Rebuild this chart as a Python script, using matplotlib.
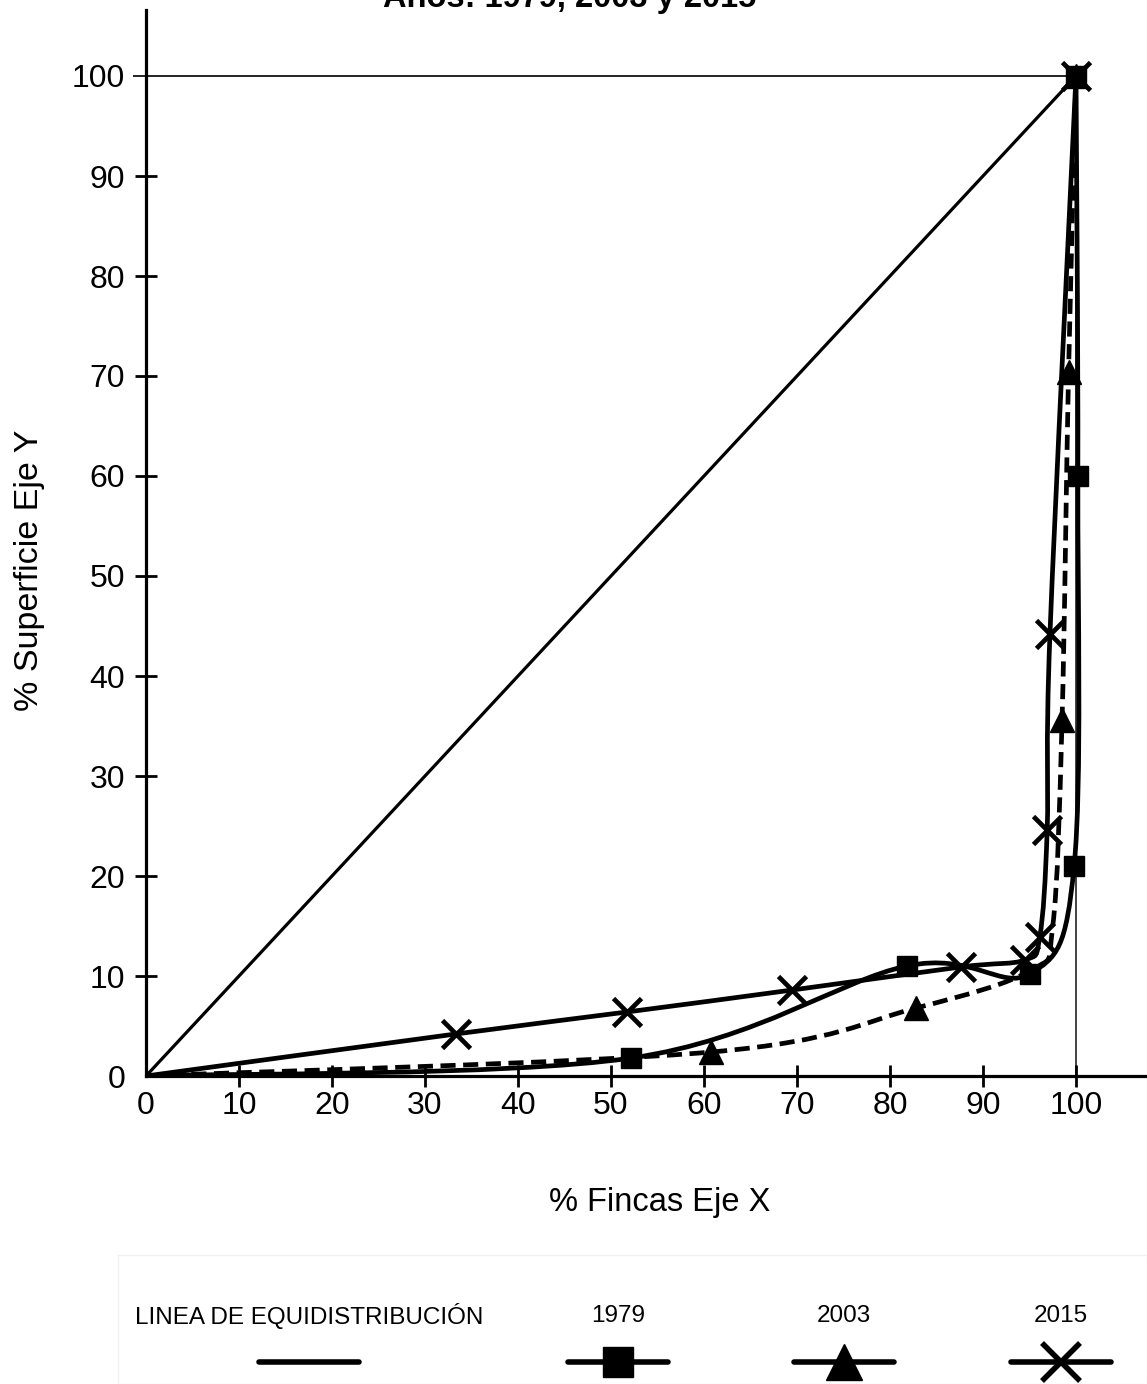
import matplotlib
matplotlib.use("Agg")
import matplotlib.pyplot as plt
from matplotlib.path import Path
from matplotlib.patches import PathPatch, Rectangle
from matplotlib.lines import Line2D

plt.rcParams['font.family'] = ['Liberation Sans', 'DejaVu Sans']

# ---------------- data ----------------
title = "Años: 1979, 2003 y 2015"
xlabel = "% Fincas Eje X"
ylabel = "% Superficie Eje Y"
ticks = [0, 10, 20, 30, 40, 50, 60, 70, 80, 90, 100]

equi_x = [0, 100]
equi_y = [0, 100]

x1979 = [0, 52.2, 81.8, 95.0, 99.8, 100.2, 100]
y1979 = [0, 1.8, 11.0, 10.2, 21.0, 60.0, 100]

# 2003: two vertices around 95-97.5 carry no visible marker in the reference
x2003 = [0, 60.8, 82.8, 95.2, 97.5, 98.5, 99.2, 100]
y2003 = [0, 2.4, 6.8, 10.6, 15.0, 35.6, 70.4, 100]
marked2003 = [1, 2, 5, 6, 7]

x2015 = [0, 33.3, 51.7, 69.5, 87.6, 94.5, 96.1, 96.9, 97.2, 100]
y2015 = [0, 4.2, 6.4, 8.6, 10.9, 11.6, 13.9, 24.6, 44.2, 100]

legend_labels = ["LINEA DE EQUIDISTRIBUCIÓN", "1979", "2003", "2015"]

# ---------------- figure ----------------
W, H = 1147, 1384
fig = plt.figure(figsize=(W / 100, H / 100), dpi=100)

x0px, x100px = 146, 1076
y0px, y100px = 1076, 76
sx = (x100px - x0px) / 100.0
sy = (y0px - y100px) / 100.0
xmax = (W - x0px) / sx
ytop_px = 10
ymax = (y0px - ytop_px) / sy

ax = fig.add_axes([x0px / W, (H - y0px) / H, 1 - x0px / W, (y0px - ytop_px) / H])
ax.set_xlim(0, xmax)
ax.set_ylim(0, ymax)
ax.patch.set_alpha(0)
for s in ['top', 'right']:
    ax.spines[s].set_visible(False)
for s in ['left', 'bottom']:
    ax.spines[s].set_linewidth(2.3)
    ax.spines[s].set_color('black')
    ax.spines[s].set_zorder(1)

ax.set_xticks(ticks)
ax.set_yticks(ticks)
ax.set_xticklabels([str(t) for t in ticks])
ax.set_yticklabels([str(t) for t in ticks])
ax.tick_params(axis='both', direction='inout', length=16, width=2.0,
               labelsize=23, colors='black')
ax.tick_params(axis='x', pad=3)
ax.tick_params(axis='y', pad=7)
xt = ax.xaxis.get_major_ticks()
xt[0].tick1line.set_visible(False)
yt = ax.yaxis.get_major_ticks()
yt[0].tick1line.set_visible(False)
yt[-1].tick1line.set_visible(False)

# frame lines at 100
ax.plot([-12 / sx, 100], [100, 100], color='#222222', lw=1.4, zorder=1,
        clip_on=False)
ax.plot([100, 100], [0, 100], color='#222222', lw=1.2, zorder=1)

# equidistribution
ax.plot(equi_x, equi_y, color='black', lw=2.3, zorder=2)


def smooth_path(xs, ys, k=6.0):
    # Catmull-Rom style smoothing expressed as cubic Bezier path
    pts = [(x * sx, y * sy) for x, y in zip(xs, ys)]
    n = len(pts)
    verts = [pts[0]]
    codes = [Path.MOVETO]
    for i in range(n - 1):
        p0 = pts[i - 1] if i > 0 else pts[i]
        p1 = pts[i]
        p2 = pts[i + 1]
        p3 = pts[i + 2] if i + 2 < n else pts[i + 1]
        c1 = (p1[0] + (p2[0] - p0[0]) / k, p1[1] + (p2[1] - p0[1]) / k)
        c2 = (p2[0] - (p3[0] - p1[0]) / k, p2[1] - (p3[1] - p1[1]) / k)
        verts += [c1, c2, p2]
        codes += [Path.CURVE4] * 3
    verts = [(vx / sx, vy / sy) for vx, vy in verts]
    return Path(verts, codes)


LW = 3.4
ax.add_patch(PathPatch(smooth_path(x1979, y1979), fill=False, lw=LW,
                       edgecolor='black', zorder=3, capstyle='round'))
ax.add_patch(PathPatch(smooth_path(x2003, y2003), fill=False, lw=LW,
                       edgecolor='black', zorder=3, linestyle=(0, (3.2, 1.6))))
ax.add_patch(PathPatch(smooth_path(x2015, y2015), fill=False, lw=LW,
                       edgecolor='black', zorder=3, capstyle='round'))

ax.plot(x1979[1:], y1979[1:], ls='none', marker='s', ms=15, color='black', zorder=4)
ax.plot([x2003[i] for i in marked2003], [y2003[i] for i in marked2003],
        ls='none', marker='^', ms=17, color='black', zorder=4)
ax.plot(x2015[1:], y2015[1:], ls='none', marker='x', ms=20, mew=3.4,
        color='black', zorder=4)

# labels
fig.text(570 / W, 1 - 7 / H, title, ha='center', va='baseline',
         fontsize=23.5, fontweight='bold')
fig.text(30 / W, 1 - 570 / H, ylabel, ha='center', va='center',
         rotation=90, fontsize=24.5)
fig.text(660 / W, 1 - 1203 / H, xlabel, ha='center', va='center', fontsize=23.5)

# ---------------- legend ----------------
lx0 = 118
ly0 = 1255
lax = fig.add_axes([0, 0, 1, 1])
lax.set_xlim(0, W)
lax.set_ylim(H, 0)
lax.axis('off')
lax.patch.set_alpha(0)
lax.add_patch(Rectangle((lx0, ly0), W - lx0, H - ly0, fill=False,
                        edgecolor='#f0f0f0', lw=1.0))

centers = [309, 618, 844, 1061]
styles = [dict(marker=None), dict(marker='s', ms=21),
          dict(marker='^', ms=26), dict(marker='x', ms=28, mew=4.0)]
for cx, lab, st in zip(centers, legend_labels, styles):
    lax.text(cx, 1316, lab, ha='center', va='center', fontsize=17.5,
             family=['Liberation Sans Narrow', 'Liberation Sans', 'DejaVu Sans'])
    lax.add_line(Line2D([cx - 50, cx + 50], [1362, 1362], color='black',
                        lw=4.0, solid_capstyle='round'))
    if st['marker'] is not None:
        lax.add_line(Line2D([cx], [1362], ls='none', color='black',
                            **st))

fig.savefig("out.png", dpi=100)
